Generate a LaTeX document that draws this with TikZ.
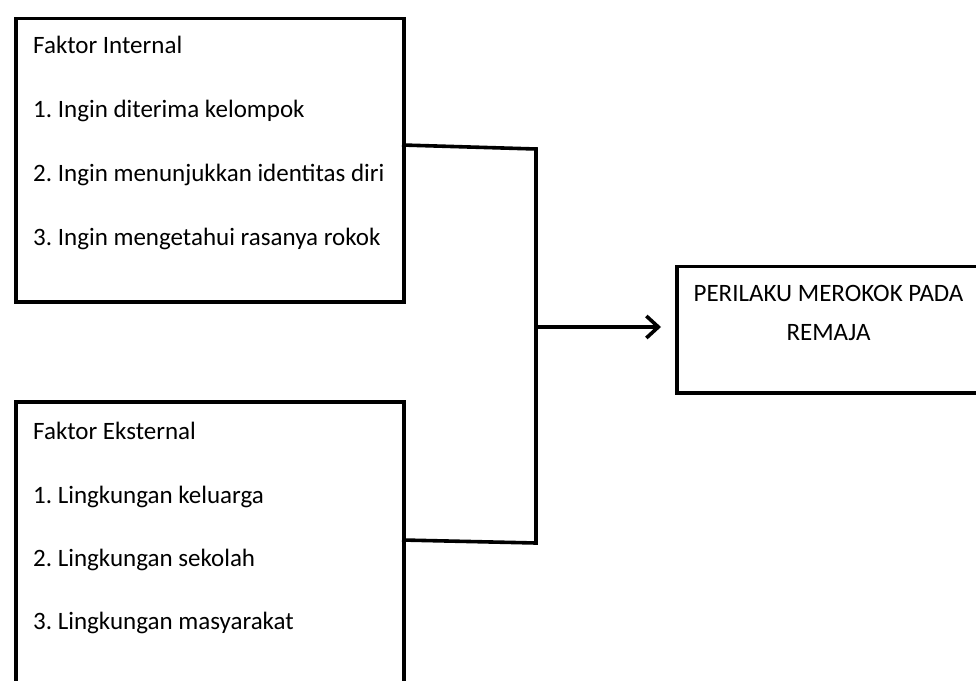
\documentclass[tikz,border=0pt]{standalone}
\usepackage{fontspec}
\setmainfont{Carlito}
\frenchspacing
\usetikzlibrary{arrows.meta}
\tikzset{
  box/.style={draw=black, line width=3.6pt, rectangle, inner sep=0pt, anchor=north west},
  txt/.style={anchor=base west, inner sep=0pt, font=\fontsize{25}{30}\selectfont, text=black},
  conn/.style={draw=black, line width=3.6pt},
}
\begin{document}
\begin{tikzpicture}[x=1pt,y=-1pt]
\useasboundingbox (0,0) rectangle (976,680);
\fill[white] (0,0) rectangle (976,680);
\begin{scope}
\clip (0,0) rectangle (976,680);
% boxes
\node[box, minimum width=388pt, minimum height=283.5pt] (int) at (14,16.5) {};
\node[box, minimum width=388pt, minimum height=290pt] (ext) at (14,400) {};
\node[box, minimum width=310pt, minimum height=126.5pt] (res) at (675,264.5) {};
% internal texts
\node[txt] (i0) at (33,53) {Faktor Internal};
\node[txt] (i1) at (33,117) {1. Ingin diterima kelompok};
\node[txt] (i2) at (33,181) {2. Ingin menunjukkan identitas diri};
\node[txt] (i3) at (33,245) {3. Ingin mengetahui rasanya rokok};
% external texts
\node[txt] (e0) at (33,439) {Faktor Eksternal};
\node[txt] (e1) at (33,503) {1. Lingkungan keluarga};
\node[txt] (e2) at (33,566) {2. Lingkungan sekolah};
\node[txt] (e3) at (33,629) {3. Lingkungan masyarakat};
% result text
\node[txt, anchor=base] (r1) at (828.5,301) {PERILAKU MEROKOK PADA};
\node[txt, anchor=base] (r2) at (828.5,340) {REMAJA};
% connectors
\coordinate (a1) at (402,145);
\coordinate (j1) at (536,149);
\coordinate (a2) at (402,540);
\coordinate (j2) at (536,543);
\coordinate (jm) at (536,327);
\draw[conn] (a1) -- (j1) -- (j2) -- (a2);
\draw[conn, -{Straight Barb[length=12pt,width=22pt,line width=3.6pt]}, shorten >=14pt] (jm) -- (jm -| res.west);
\end{scope}
\end{tikzpicture}
\end{document}
